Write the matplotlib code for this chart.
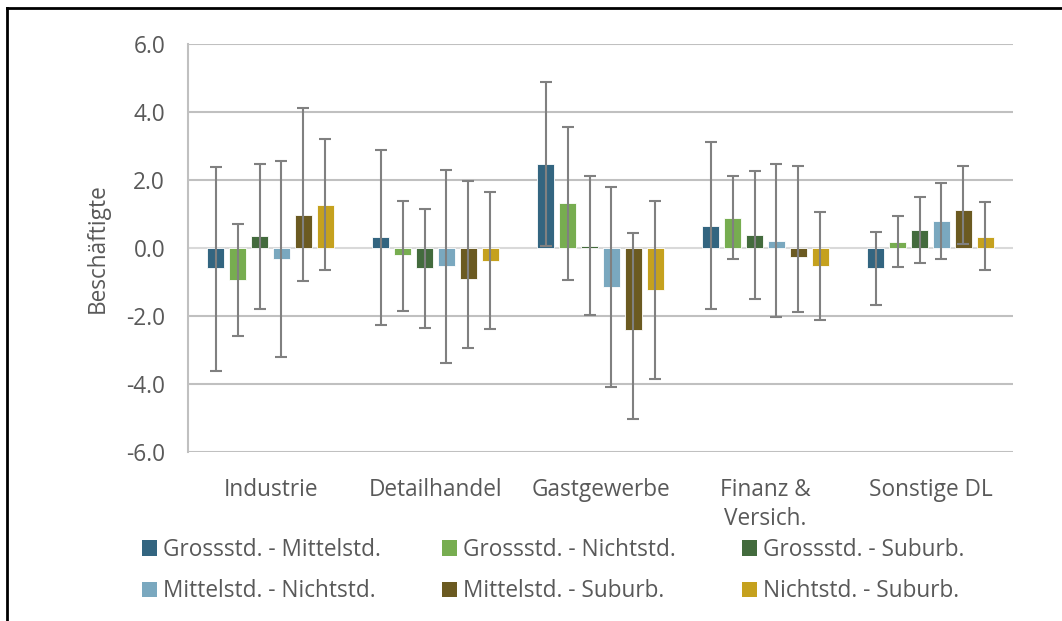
import matplotlib
matplotlib.use("Agg")
import matplotlib.pyplot as plt
import numpy as np
from matplotlib.patches import Patch
from matplotlib.lines import Line2D

categories = ["Industrie", "Detailhandel", "Gastgewerbe", "Finanz &\nVersich.", "Sonstige DL"]
series = ["Grossstd. - Mittelstd.", "Grossstd. - Nichtstd.", "Grossstd. - Suburb.",
          "Mittelstd. - Nichtstd.", "Mittelstd. - Suburb.", "Nichtstd. - Suburb."]
colors = ["#336580", "#77ad50", "#436b3d", "#7aa8bf", "#6b5a21", "#c5a11e"]

# bar values per series (one value per category)
values = [
    [-0.60, 0.31, 2.46, 0.64, -0.59],
    [-0.94, -0.21, 1.31, 0.89, 0.19],
    [0.34, -0.59, 0.06, 0.37, 0.54],
    [-0.33, -0.53, -1.15, 0.21, 0.79],
    [0.96, -0.91, -2.41, -0.27, 1.12],
    [1.27, -0.38, -1.24, -0.52, 0.33],
]
# lower and upper ends of the error bars
ci_low = [
    [-3.62, -2.25, 0.07, -1.80, -1.67],
    [-2.59, -1.84, -0.93, -0.31, -0.55],
    [-1.79, -2.35, -1.98, -1.51, -0.43],
    [-3.20, -3.38, -4.10, -2.02, -0.32],
    [-0.98, -2.94, -5.02, -1.88, 0.12],
    [-0.66, -2.39, -3.86, -2.11, -0.65],
]
ci_high = [
    [2.39, 2.87, 4.89, 3.13, 0.48],
    [0.71, 1.39, 3.57, 2.11, 0.94],
    [2.46, 1.16, 2.12, 2.26, 1.50],
    [2.57, 2.29, 1.79, 2.48, 1.90],
    [4.11, 1.98, 0.43, 2.42, 2.42],
    [3.22, 1.65, 1.37, 1.06, 1.36],
]
yticks = [-6.0, -4.0, -2.0, 0.0, 2.0, 4.0, 6.0]

plt.rcParams['font.family'] = ['Open Sans', 'DejaVu Sans']
txt = "#595959"
fs = 16.3
W, H = 1062, 621
fig = plt.figure(figsize=(W / 100, H / 100), dpi=100)
ax = fig.add_axes([188 / W, 1 - 452 / H, 825 / W, 408 / H])

x = np.arange(len(categories))
step = 0.1327
bw = 0.103
for i, (s, c) in enumerate(zip(series, colors)):
    pos = x + (i - 2.5) * step
    v = np.array(values[i])
    lo = v - np.array(ci_low[i])
    hi = np.array(ci_high[i]) - v
    ax.bar(pos, v, width=bw, color=c, edgecolor="white", linewidth=0.6, zorder=2, label=s)
    ax.errorbar(pos, v, yerr=[lo, hi], fmt="none", ecolor="#808080", elinewidth=1.5,
                capsize=4.2, capthick=1.5, zorder=3)

ax.set_xlim(-0.5, len(categories) - 0.5)
ax.set_ylim(-6, 6)
ax.set_yticks(yticks)
ax.set_yticklabels([f"{t:.1f}" for t in yticks])
ax.set_xticks(x)
ax.set_xticklabels(categories, linespacing=1.25)
ax.tick_params(axis="both", length=0, labelsize=fs, colors=txt)
ax.tick_params(axis="y", pad=16.5)
ax.tick_params(axis="x", pad=19)
for t in yticks:
    ax.axhline(t, color="#d9d9d9" if t == 0 else "#c0c0c0", lw=1.5, zorder=1)
for sp in ["top", "right", "bottom"]:
    ax.spines[sp].set_visible(False)
ax.spines["left"].set_color("#c0c0c0")
ax.spines["left"].set_linewidth(1.5)
ax.set_ylabel("Beschäftigte", fontsize=fs, color=txt)
ax.yaxis.set_label_coords(-0.095, 0.5)

# legend: three columns, two rows
order = [[0, 3], [1, 4], [2, 5]]
col_x = [142, 442, 742]
for cx, idx in zip(col_x, order):
    handles = [Patch(facecolor=colors[k], edgecolor="none") for k in idx]
    labels = [series[k] for k in idx]
    fig.legend(handles, labels, loc="upper left", bbox_to_anchor=(cx / W, 1 - 538 / H),
               frameon=False, fontsize=fs, labelcolor=txt, handlelength=0.66,
               handleheight=0.66, handletextpad=0.25, labelspacing=0.77, borderpad=0,
               borderaxespad=0)

# outer border (top and left)
fig.add_artist(Line2D([7 / W, 1.0], [1 - 8 / H, 1 - 8 / H], color="black", lw=2, transform=fig.transFigure))
fig.add_artist(Line2D([7 / W, 7 / W], [0, 1 - 8 / H], color="black", lw=2, transform=fig.transFigure))

fig.savefig("out.png", dpi=100)
